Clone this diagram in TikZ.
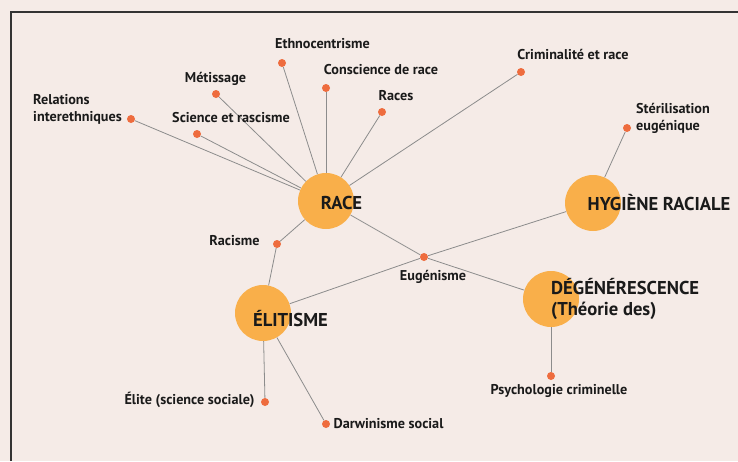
\documentclass[tikz,border=0pt]{standalone}
\usepackage{fontspec}
\setmainfont{PT Sans}
\usepackage{tikz}
\usetikzlibrary{positioning}
\definecolor{fond}{HTML}{F5EBE7}
\definecolor{bulle}{HTML}{F9AF4A}
\definecolor{point}{HTML}{EE6C3E}
\definecolor{trait}{HTML}{8C8C8C}
\definecolor{cadre}{HTML}{333333}
\definecolor{texte}{HTML}{1A1A1A}

\begin{document}
\begin{tikzpicture}[x=1pt,y=-1pt,
        hub/.style={circle,fill=bulle,minimum size=56pt,inner sep=0pt},
        dot/.style={circle,fill=point,minimum size=8pt,inner sep=0pt},
        lbl/.style={text=texte,font=\bfseries\fontsize{14.2}{17}\selectfont,inner sep=0pt},
        hublbl/.style={text=texte,font=\bfseries\fontsize{18.6}{21}\selectfont,inner sep=0pt},
        link/.style={draw=trait,line width=0.8pt}]
        \fill[fond] (0,0) rectangle (738,461);
        \useasboundingbox (0,0) rectangle (738,461);
        \draw[cadre,line width=1.3pt] (11,461) -- (11,12) -- (738,12);
        % concepts
        \node[hub] (race) at (326,201) {};
        \node[hub] (hygiene) at (593,203) {};
        \node[hub] (elitisme) at (263,313) {};
        \node[hub] (degen) at (551,299) {};
        % satellites
        \node[dot] (relations) at (131,119) {};
        \node[dot] (science) at (197,134) {};
        \node[dot] (metissage) at (216,94) {};
        \node[dot] (ethno) at (282,63) {};
        \node[dot] (conscience) at (326,88) {};
        \node[dot] (races) at (382,112) {};
        \node[dot] (crimrace) at (521,72) {};
        \node[dot] (sterile) at (627,128) {};
        \node[dot] (racisme) at (277,244) {};
        \node[dot] (eugen) at (424,257) {};
        \node[dot] (elite) at (265,402) {};
        \node[dot] (darwin) at (326,424) {};
        \node[dot] (psycho) at (551,376) {};
        % liens
        \foreach \s in {relations,science,metissage,ethno,conscience,races,crimrace,racisme,eugen}
            \path[link] (race) -- (\s);
        \path[link] (racisme) -- (elitisme);
        \path[link] (elitisme) -- (eugen) -- (hygiene);
        \path[link] (eugen) -- (degen);
        \path[link] (hygiene) -- (sterile);
        \path[link] (degen) -- (psycho);
        \path[link] (elitisme) -- (elite);
        \path[link] (elitisme) -- (darwin);
        % textes
        \node[hublbl] (racetxt) at (341.5,203) {RACE};
        \node[hublbl] (hygienetxt) at (659,203) {HYGIÈNE RACIALE};
        \node[hublbl] (elitismetxt) at (290.5,319) {ÉLITISME};
        \node[hublbl,anchor=west,align=left] (degentxt) at (551,298.5) {DÉGÉNÉRESCENCE\\(Théorie des)};
        \node[lbl,anchor=east,align=left] (relationstxt) at (122,109.5) {Relations\\interethniques};
        \node[lbl] (sciencetxt) at (231,118) {Science et rascisme};
        \node[lbl] (metissagetxt) at (215.5,79) {Métissage};
        \node[lbl] (ethnotxt) at (322.5,44) {Ethnocentrisme};
        \node[lbl] (consciencetxt) at (381,70) {Conscience de race};
        \node[lbl] (racestxt) at (396,96) {Races};
        \node[lbl] (crimracetxt) at (573,54) {Criminalité et race};
        \node[lbl,anchor=west,align=left] (steriletxt) at (636,118.5) {Stérilisation\\eugénique};
        \node[lbl] (racismetxt) at (234.5,241) {Racisme};
        \node[lbl] (eugentxt) at (433,277) {Eugénisme};
        \node[lbl] (elitetxt) at (189.5,400) {Élite (science sociale)};
        \node[lbl] (darwintxt) at (388.5,424) {Darwinisme social};
        \node[lbl] (psychotxt) at (559,391) {Psychologie criminelle};
    \end{tikzpicture}
\end{document}
